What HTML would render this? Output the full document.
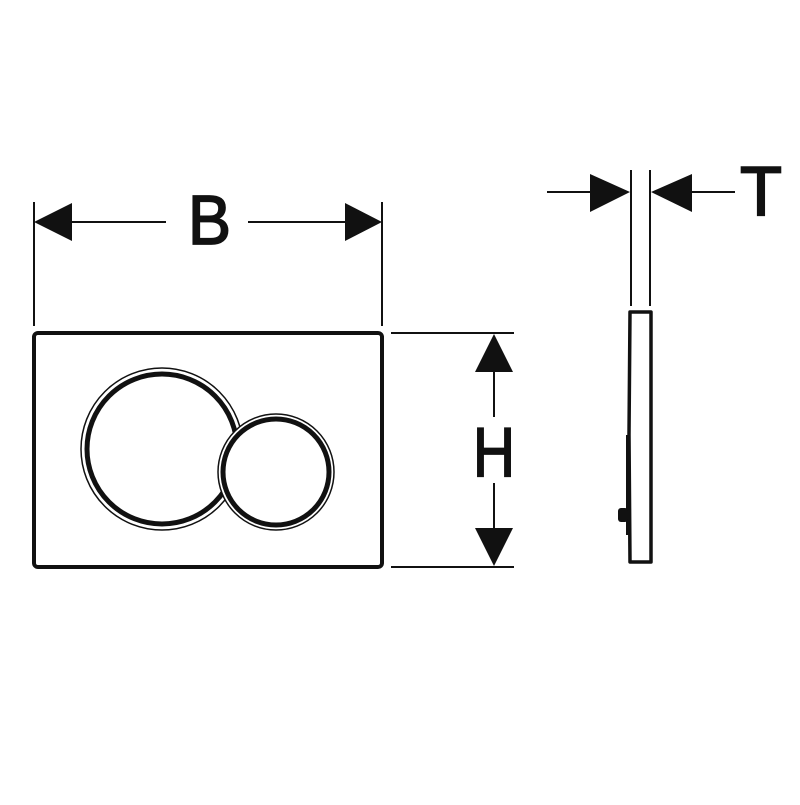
<!DOCTYPE html>
<html><head><style>html,body{margin:0;padding:0;background:#fff}</style></head>
<body>
<svg width="800" height="800" viewBox="0 0 800 800" xmlns="http://www.w3.org/2000/svg">
<rect width="800" height="800" fill="#fff"/>
<g stroke="#111" fill="none">
<!-- B dimension -->
<line x1="34" y1="202" x2="34" y2="326" stroke-width="2"/>
<line x1="382" y1="202" x2="382" y2="326" stroke-width="2"/>
<line x1="72" y1="222" x2="166" y2="222" stroke-width="2"/>
<line x1="248" y1="222" x2="345" y2="222" stroke-width="2"/>
<!-- H dimension -->
<line x1="391" y1="333" x2="514" y2="333" stroke-width="2"/>
<line x1="391" y1="567" x2="514" y2="567" stroke-width="2"/>
<line x1="494" y1="372" x2="494" y2="417" stroke-width="2"/>
<line x1="494" y1="483" x2="494" y2="528" stroke-width="2"/>
<!-- plate -->
<rect x="34" y="333" width="348" height="234" rx="4" stroke-width="4"/>
<circle cx="162" cy="449" r="81" stroke-width="1.5"/>
<circle cx="162" cy="449" r="75" stroke-width="5"/>
<circle cx="276" cy="472" r="58" stroke-width="1.5" fill="#fff"/>
<circle cx="276" cy="472" r="53" stroke-width="5"/>
<!-- side view -->
<line x1="631" y1="170" x2="631" y2="306" stroke-width="2"/>
<line x1="650" y1="170" x2="650" y2="306" stroke-width="2"/>
<line x1="547" y1="192" x2="590" y2="192" stroke-width="2"/>
<line x1="692" y1="192" x2="735" y2="192" stroke-width="2"/>
<path d="M630 312 L651 312 L651 562 L630 562 L629 435 Z" stroke-width="3.5" stroke-linejoin="round"/>
</g>
<g fill="#111">
<polygon points="34,222 72,203 72,241"/>
<polygon points="382,222 345,203 345,241"/>
<polygon points="494,334 475,372 513,372"/>
<polygon points="494,566 475,528 513,528"/>
<polygon points="630,192 590,174 590,212"/>
<polygon points="651,192 692,174 692,212"/>
<rect x="626" y="435" width="4" height="100"/>
<rect x="618" y="508" width="10" height="14" rx="3"/>
</g>
<g font-family="Liberation Sans, sans-serif" fill="#111" stroke="#111" stroke-width="1.8" font-size="70">
<text x="188" y="244" textLength="43" lengthAdjust="spacingAndGlyphs">B</text>
<text x="473" y="476" textLength="42" lengthAdjust="spacingAndGlyphs">H</text>
<text x="740" y="215" textLength="42" lengthAdjust="spacingAndGlyphs">T</text>
</g>
</svg>
</body></html>
